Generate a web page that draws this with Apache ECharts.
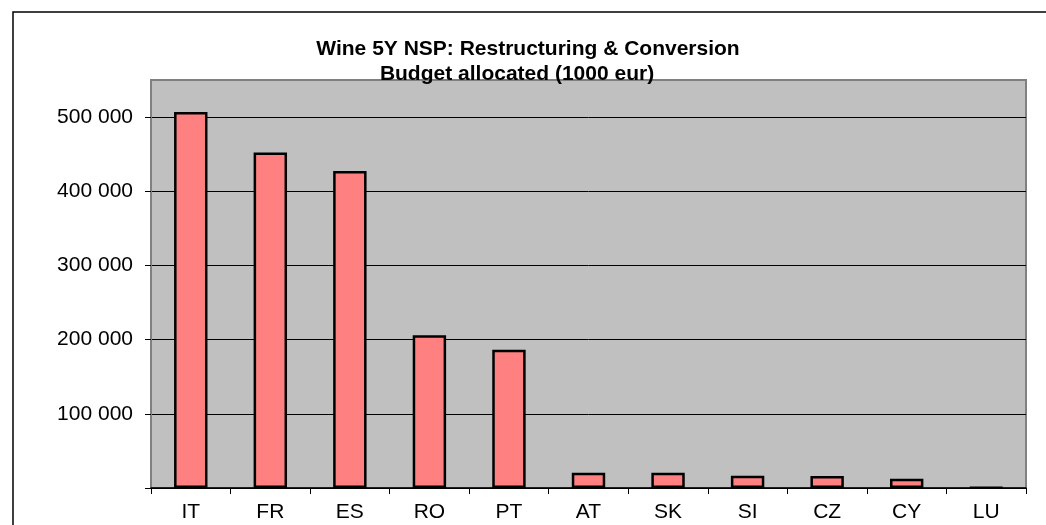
<!DOCTYPE html>
<html>
<head>
<meta charset="utf-8">
<script src="https://cdn.jsdelivr.net/npm/echarts@6/dist/echarts.min.js"></script>
<style>
  html, body { margin: 0; padding: 0; background: #fff; }
  #main { width: 1046px; height: 525px; }
</style>
</head>
<body>
<div id="main"></div>
<script>
// member states and allocated budget (1000 eur)
var countries = ["IT", "FR", "ES", "RO", "PT", "AT", "SK", "SI", "CZ", "CY", "LU"];
var budget = [507000, 452300, 427200, 205800, 186500, 20600, 20400, 16500, 16200, 12400, 600];
var yTicks = [0, 100000, 200000, 300000, 400000, 500000];

var chart = echarts.init(document.getElementById("main"));

function fmt(v) {
  if (v === 0) return "";
  return String(v).replace(/\B(?=(\d{3})+(?!\d))/g, " ");
}

var option = {
  animation: false,
  textStyle: { fontFamily: "Liberation Sans, Arial, sans-serif" },
  title: [
    {
      text: "Wine 5Y NSP: Restructuring & Conversion",
      left: 523, top: 34, textAlign: "center",
      textStyle: { fontSize: 21, fontWeight: "bold", color: "#000", fontFamily: "Liberation Sans" }
    },
    {
      text: "Budget allocated (1000 eur)",
      left: 512, top: 59, textAlign: "center",
      textStyle: { fontSize: 21, fontWeight: "bold", color: "#000", fontFamily: "Liberation Sans" }
    }
  ],
  graphic: [
    {
      type: "rect", z: -10,
      shape: { x: 13, y: 12, width: 1100, height: 600 },
      style: { fill: "#fff", stroke: "#000", lineWidth: 1.5 }
    }
  ],
  grid: {
    left: 151, right: 20, top: 80, bottom: 37,
    show: true, backgroundColor: "#c0c0c0", borderColor: "#808080", borderWidth: 2
  },
  xAxis: {
    type: "category",
    data: countries,
    axisLine: { lineStyle: { color: "#000", width: 1.5 } },
    axisTick: { show: true, length: 6, lineStyle: { color: "#000" } },
    axisLabel: { fontSize: 21, color: "#000", margin: 14 }
  },
  yAxis: {
    type: "value",
    min: 0, max: 550000, interval: 100000,
    axisLine: { show: true, lineStyle: { color: "#808080", width: 2 } },
    axisTick: { show: true, length: 6, customValues: yTicks, lineStyle: { color: "#000" } },
    axisLabel: { fontSize: 21, color: "#000", margin: 18, customValues: yTicks, formatter: fmt },
    splitLine: { lineStyle: { color: "#000", width: 1 } }
  },
  series: [
    {
      type: "bar",
      data: budget,
      barWidth: "42%",
      itemStyle: { color: "#ff8080", borderColor: "#000", borderWidth: 2.5 }
    }
  ]
};

chart.setOption(option);
</script>
</body>
</html>
